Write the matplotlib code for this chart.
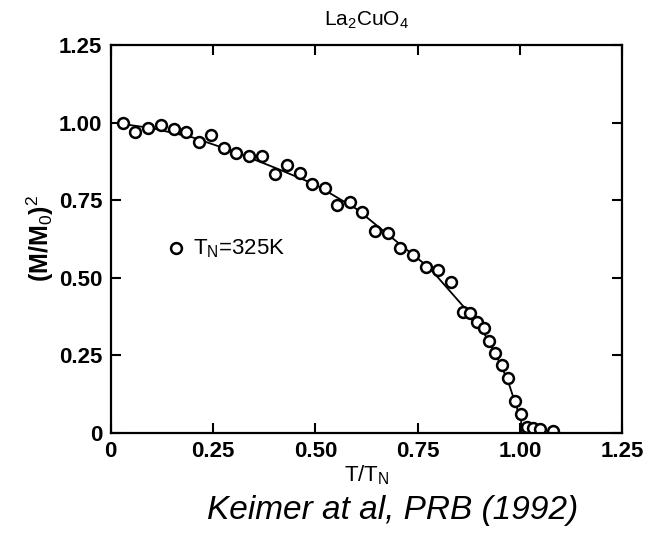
import matplotlib.pyplot as plt

# data (Keimer et al. 1992, La2CuO4)
t_red = [0.030, 0.060, 0.091, 0.124, 0.154, 0.184, 0.215, 0.246, 0.276, 0.307,
         0.338, 0.369, 0.401, 0.431, 0.462, 0.492, 0.523, 0.554, 0.585, 0.615,
         0.646, 0.677, 0.708, 0.739, 0.770, 0.801, 0.831, 0.862, 0.878, 0.896,
         0.913, 0.925, 0.939, 0.956, 0.972, 0.988, 1.003, 1.018, 1.033, 1.049,
         1.080]
m_sq = [1.000, 0.968, 0.981, 0.992, 0.979, 0.968, 0.936, 0.961, 0.918, 0.903,
        0.891, 0.891, 0.834, 0.864, 0.838, 0.803, 0.789, 0.734, 0.744, 0.713,
        0.651, 0.645, 0.594, 0.572, 0.534, 0.524, 0.487, 0.389, 0.387, 0.356,
        0.338, 0.295, 0.256, 0.220, 0.177, 0.104, 0.061, 0.018, 0.017, 0.012,
        0.007]

# fitted curve (solid) and the dashed continuation above T_N
fit_t = [0.03, 0.10, 0.20, 0.30, 0.40, 0.50, 0.60, 0.70, 0.78, 0.85, 0.90,
         0.94, 0.97, 0.99, 1.003, 1.003]
fit_m = [0.995, 0.982, 0.952, 0.907, 0.855, 0.800, 0.722, 0.615, 0.530, 0.425,
         0.350, 0.255, 0.170, 0.090, 0.040, 0.0]
tail_t = [1.003, 1.25]
tail_m = [0.0, 0.0]

ticks = [0, 0.25, 0.50, 0.75, 1.00, 1.25]
tick_labels = ['0', '0.25', '0.50', '0.75', '1.00', '1.25']

plt.rcParams['font.family'] = 'Liberation Sans'
plt.rcParams['mathtext.fontset'] = 'custom'
plt.rcParams['mathtext.rm'] = 'Liberation Sans'
plt.rcParams['mathtext.it'] = 'Liberation Sans'
plt.rcParams['mathtext.bf'] = 'Liberation Sans:bold'

fig = plt.figure(figsize=(6.55, 5.35), dpi=100)
ax = fig.add_axes([0.169, 0.191, 0.781, 0.725])

ax.plot(fit_t, fit_m, color='black', lw=1.3)
ax.plot(tail_t, tail_m, color='black', lw=1.3, ls=(0, (4, 2)))
ax.plot(t_red, m_sq, ls='none', marker='o', ms=7.8, mfc='white', mec='black', mew=1.8)

ax.set_xlim(0, 1.25)
ax.set_ylim(0, 1.25)
ax.set_xticks(ticks)
ax.set_yticks(ticks)
ax.set_xticklabels(tick_labels, fontweight='bold', fontsize=16)
ax.set_yticklabels(tick_labels, fontweight='bold', fontsize=16)
ax.tick_params(direction='in', length=7, width=1.5, top=True, right=True, pad=6)
for s in ax.spines.values():
    s.set_linewidth(1.6)

# legend drawn as in the paper
ax.plot([0.159], [0.594], ls='none', marker='o', ms=7.8, mfc='white', mec='black', mew=1.8)
ax.text(0.20, 0.594, r'$T_N$=325K', fontsize=16, va='center')

ax.set_title(r'La$_2$CuO$_4$', fontsize=15, pad=14)
ax.set_ylabel(r'(M/M$_0$)$^2$', fontweight='bold', fontsize=18, labelpad=2)
ax.set_xlabel(r'$T/T_N$', fontsize=16, labelpad=1)

fig.text(0.60, 0.045, 'Keimer at al, PRB (1992)', style='italic', fontsize=24,
         ha='center', va='center')

fig.savefig('out.png', dpi=100)
